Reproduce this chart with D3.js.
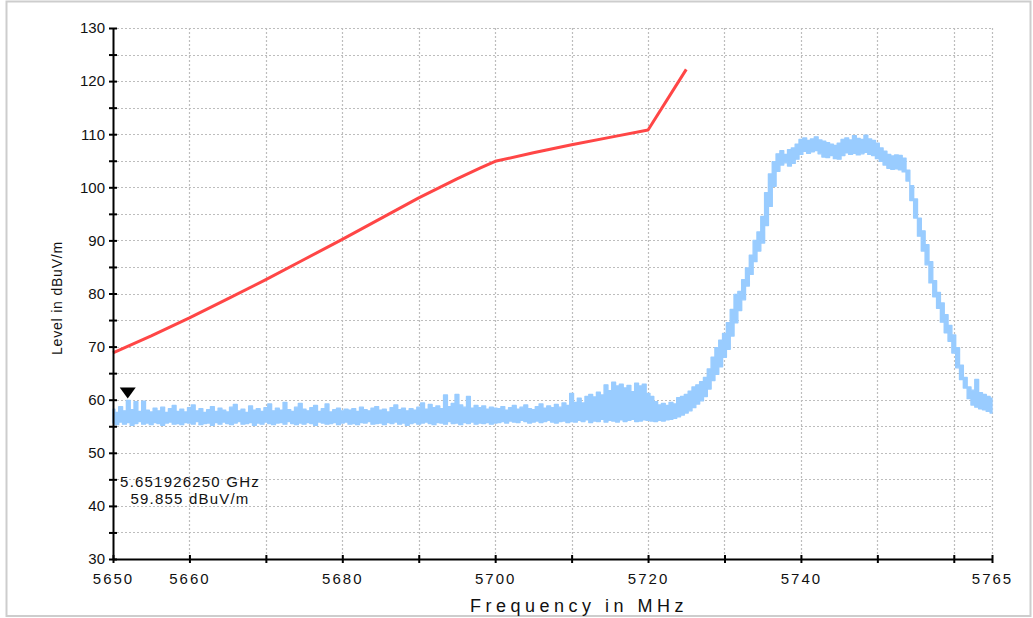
<!DOCTYPE html>
<html>
<head>
<meta charset="utf-8">
<script src="https://cdn.jsdelivr.net/npm/d3@7/dist/d3.min.js"></script>
<style>
  html, body { margin: 0; padding: 0; background: #fff; }
  svg { display: block; }
  text { font-family: "Liberation Sans", Arial, sans-serif; fill: #111; }
</style>
</head>
<body>
<svg id="chart" width="1033" height="618"></svg>
<script>
// Sweep settings of the measured trace (MHz)
const traceStart = 5650;
const traceStep = 0.5;

// Max-hold envelope (top of the trace), dBuV/m, one value per sweep step
const traceHi = [
  58.2, 57.6, 58.7, 57.9, 59.86, 58.1, 59.6, 57.8, 59.7, 58.0,
  57.7, 58.4, 57.9, 58.6, 57.6, 58.3, 58.9, 57.8, 58.2, 57.7,
  58.5, 59.0, 57.9, 58.3, 57.6, 58.1, 58.7, 57.8, 58.4, 58.0,
  57.7, 58.6, 59.1, 57.9, 58.2, 57.6, 58.8, 58.0, 58.3, 57.8,
  58.5, 59.2, 57.9, 58.4, 58.0, 59.5, 58.1, 57.8, 58.6, 59.3,
  58.2, 57.9, 58.5, 58.9, 57.8, 58.3, 59.2, 57.7, 58.1, 58.4,
  57.9, 58.2, 58.0, 58.3, 57.8, 58.6, 58.1, 57.9, 58.4, 58.7,
  58.0, 58.2, 57.7, 58.5, 59.0, 58.1, 58.4, 57.9, 58.3, 58.0,
  58.6, 59.4, 58.2, 59.1, 58.5, 58.8, 58.3, 60.9, 58.7, 59.3,
  61.0, 59.0, 58.6, 60.6, 58.4, 58.9, 58.5, 58.8, 58.2, 58.6,
  58.4,
  58.3, 58.7, 58.0, 58.5, 58.9, 58.2, 58.6, 59.0, 58.3, 58.1,
  58.7, 59.2, 58.4, 58.8, 58.5, 59.1, 58.6, 59.4, 58.9, 61.2,
  59.5, 60.3, 59.4, 60.6, 61.0, 60.5, 61.4, 60.9, 62.8, 61.7,
  63.3, 62.6, 62.9, 62.2, 62.7, 61.5, 63.1, 62.6, 62.9, 61.2,
  60.6, 59.6, 59.0, 59.3, 58.9, 59.5, 59.2, 60.4, 60.6, 61.0,
  61.6, 62.4, 62.8, 63.4, 64.2, 65.8, 68.0, 69.8, 71.2, 72.5,
  74.5, 77.0, 79.8, 80.4, 82.6, 84.8, 87.2, 90.0, 91.6, 94.5,
  99.0, 102.5, 104.8, 106.3, 106.9, 106.2, 107.1, 107.4, 108.1, 109.0,
  109.3, 108.8, 109.1, 109.5, 108.9, 108.7, 108.4, 108.1, 107.9, 108.3,
  109.0, 109.3, 108.9, 109.7, 109.2, 109.0, 109.8, 109.1, 108.8, 108.3,
  107.4, 106.8, 106.2, 105.9, 106.1, 106.0, 105.5, 103.2, 100.3, 97.8,
  94.2, 91.8, 89.2, 86.0, 82.4, 80.2, 78.2, 76.0, 74.0, 72.2,
  69.8, 66.5, 64.2, 62.4, 61.8, 63.8, 61.3, 61.0, 60.6, 60.3
];

// Bottom of the trace, dBuV/m, same sweep steps
const traceLo = [
  55.6, 55.3, 55.8, 55.4, 55.7, 55.2, 55.5, 55.9, 55.4, 55.6,
  55.3, 55.7, 55.5, 55.2, 55.6, 55.8, 55.4, 55.5, 55.3, 55.7,
  55.6, 55.4, 55.9, 55.3, 55.5, 55.6, 55.2, 55.7, 55.4, 55.8,
  55.5, 55.3, 55.6, 55.9, 55.4, 55.5, 55.7, 55.2, 55.6, 55.4,
  55.8, 55.5, 55.3, 55.6, 55.7, 55.4, 55.9, 55.5, 55.3, 55.6,
  55.4, 55.7, 55.5, 55.2, 55.8, 55.6, 55.4, 55.5, 55.7, 55.3,
  55.6, 55.8, 55.4, 55.5, 55.3, 55.7, 55.6, 55.9, 55.4, 55.5,
  55.6, 55.3, 55.7, 55.5, 55.8, 55.4, 55.6, 55.2, 55.5, 55.7,
  55.4, 55.6, 55.8, 55.5, 55.3, 55.7, 55.6, 55.4, 55.9, 55.5,
  55.6, 55.3, 55.7, 55.5, 55.8, 55.4, 55.6, 55.5, 55.7, 55.4,
  55.6,
  55.7, 55.9, 55.6, 56.0, 55.8, 55.7, 56.1, 55.9, 55.6, 55.8,
  56.0, 55.7, 55.9, 56.1, 55.8, 55.6, 55.9, 56.0, 55.7, 55.9,
  55.8, 56.1, 55.9, 56.2, 55.7, 56.0, 55.9, 56.3, 55.8, 56.1,
  56.0, 55.8, 56.2, 55.9, 56.1, 56.3, 55.9, 56.0, 56.2, 56.1,
  56.0, 55.9, 56.1, 56.0, 56.2, 56.3, 56.5, 56.8, 57.1, 57.5,
  57.9, 58.5, 59.2, 59.8, 60.6, 62.0, 63.6, 64.8, 66.2, 68.0,
  69.5, 72.0, 74.5, 76.8, 78.8, 81.4, 83.6, 86.0, 88.0, 89.5,
  92.8, 96.4, 100.2, 103.0, 104.2, 104.6, 104.0, 104.5, 105.3, 106.2,
  106.8, 106.4, 106.7, 106.9, 106.3, 105.7, 105.6, 106.0, 105.4, 105.3,
  106.0, 106.5, 106.2, 106.4, 106.1, 106.3, 106.6, 106.2, 106.0, 105.4,
  104.9, 104.2, 103.6, 103.4, 103.5, 103.3, 102.9, 101.2, 97.5, 94.2,
  90.8, 88.0, 85.4, 82.0, 79.4, 77.2, 74.6, 72.6, 71.0, 68.8,
  66.0, 63.8, 62.2, 60.2, 59.0, 58.6, 58.3, 58.1, 57.8, 57.5
];

// Limit line: frequency (MHz) and level (dBuV/m)
const limitFreq  = [5650, 5655, 5660, 5665, 5670, 5675, 5680, 5685, 5690, 5695, 5698, 5700, 5705, 5710, 5715, 5720, 5725];
const limitLevel = [68.8, 72.0, 75.4, 79.0, 82.6, 86.4, 90.2, 94.1, 98.0, 101.6, 103.6, 104.9, 106.5, 108.0, 109.4, 110.8, 122.2];

// Marker
const markerFreq = 5651.926250;   // MHz
const markerLevel = 59.855;       // dBuV/m
const markerLines = ["5.651926250 GHz", "59.855 dBuV/m"];

// Axis ticks and labels
const xTicks = [5650, 5660, 5670, 5680, 5690, 5700, 5710, 5720, 5730, 5740, 5750, 5760, 5765];
const xTickLabels = [5650, 5660, 5680, 5700, 5720, 5740, 5765];
const yTicks = [30, 35, 40, 45, 50, 55, 60, 65, 70, 75, 80, 85, 90, 95, 100, 105, 110, 115, 120, 125, 130];
const yTickLabels = [30, 40, 50, 60, 70, 80, 90, 100, 110, 120, 130];
const xTitle = "Frequency in MHz";
const yTitle = "Level in dBuV/m";

const svg = d3.select("#chart");
const W = 1033, H = 618;
const plot = { left: 113, right: 992, top: 28, bottom: 559 };

// Outer frame
svg.append("rect")
  .attr("x", 6.5).attr("y", 1.5)
  .attr("width", W - 9).attr("height", H - 3.5)
  .attr("fill", "#fff").attr("stroke", "#cdcdcd").attr("stroke-width", 2);

const x = d3.scaleLinear().domain([5650, 5765]).range([plot.left, plot.right]);
const y = d3.scaleLinear().domain([30, 130]).range([plot.bottom, plot.top]);

// Dotted grid
const grid = svg.append("g").attr("stroke", "#bdbdbd").attr("stroke-width", 1.2)
  .attr("stroke-dasharray", "2,2");
grid.selectAll("line.v").data(xTicks.filter(v => v > 5650)).join("line")
  .attr("x1", d => Math.round(x(d)) + 0.5).attr("x2", d => Math.round(x(d)) + 0.5)
  .attr("y1", plot.top).attr("y2", plot.bottom);
grid.selectAll("line.h").data(yTicks.filter(v => v > 30)).join("line")
  .attr("x1", plot.left).attr("x2", plot.right)
  .attr("y1", d => Math.round(y(d)) + 0.5).attr("y2", d => Math.round(y(d)) + 0.5);

// Measured trace as a filled band between bottom and top envelopes
const trace = traceHi.map((hi, i) => ({ f: traceStart + i * traceStep, hi, lo: traceLo[i] }));
svg.append("path")
  .datum(trace)
  .attr("fill", "#99ccff")
  .attr("stroke", "#99ccff")
  .attr("stroke-width", 1.4)
  .attr("stroke-linejoin", "round")
  .attr("d", d3.area()
    .x(d => x(d.f))
    .y0(d => y(d.lo))
    .y1(d => y(d.hi))
    .curve(d3.curveStep));

// Limit line
const limit = limitFreq.map((f, i) => ({ f, v: limitLevel[i] }));
svg.append("path")
  .datum(limit)
  .attr("fill", "none")
  .attr("stroke", "#ff4646")
  .attr("stroke-width", 3)
  .attr("stroke-linejoin", "round")
  .attr("d", d3.line().x(d => x(d.f)).y(d => y(d.v)));

// Axes
const xAxis = d3.axisBottom(x).tickValues(xTicks).tickSizeInner(4).tickSizeOuter(0)
  .tickFormat(d => xTickLabels.includes(d) ? d : "");
const gx = svg.append("g").attr("transform", `translate(0,${plot.bottom})`).call(xAxis);
gx.select(".domain").attr("stroke", "#000").attr("stroke-width", 2);
gx.selectAll(".tick line").attr("stroke", "#000").attr("stroke-width", 2).attr("y1", -4);
gx.selectAll(".tick text")
  .attr("y", 14).attr("dy", "0.71em")
  .style("font-size", "15px").style("letter-spacing", "2px")
  .style("font-family", "'Liberation Sans', Arial, sans-serif").attr("fill", "#111");

const yAxis = d3.axisLeft(y).tickValues(yTicks).tickSizeInner(4).tickSizeOuter(0)
  .tickFormat(d => yTickLabels.includes(d) ? d : "");
const gy = svg.append("g").attr("transform", `translate(${plot.left},0)`).call(yAxis);
gy.select(".domain").attr("stroke", "#000").attr("stroke-width", 2);
gy.selectAll(".tick line").attr("stroke", "#000").attr("stroke-width", 2).attr("x1", 4);
gy.selectAll(".tick text")
  .attr("x", -8)
  .style("font-size", "15px")
  .style("font-family", "'Liberation Sans', Arial, sans-serif").attr("fill", "#111");

// Axis titles
svg.append("text")
  .attr("x", 579).attr("y", 612)
  .attr("text-anchor", "middle")
  .style("font-size", "18px").style("letter-spacing", "4.5px")
  .text(xTitle);
svg.append("text")
  .attr("transform", `translate(62,298) rotate(-90)`)
  .attr("text-anchor", "middle")
  .style("font-size", "14px").style("letter-spacing", "0.8px")
  .text(yTitle);

// Marker triangle and readout
const mx = x(markerFreq), my = y(markerLevel);
svg.append("path")
  .attr("d", `M${mx - 8},${my - 13} L${mx + 8},${my - 13} L${mx},${my - 2} Z`)
  .attr("fill", "#000");
svg.append("text")
  .attr("x", 190).attr("y", 487)
  .attr("text-anchor", "middle")
  .style("font-size", "15px").style("letter-spacing", "1.2px")
  .selectAll("tspan").data(markerLines).join("tspan")
  .attr("x", 190).attr("dy", (d, i) => i === 0 ? 0 : 17)
  .text(d => d);
</script>
</body>
</html>
